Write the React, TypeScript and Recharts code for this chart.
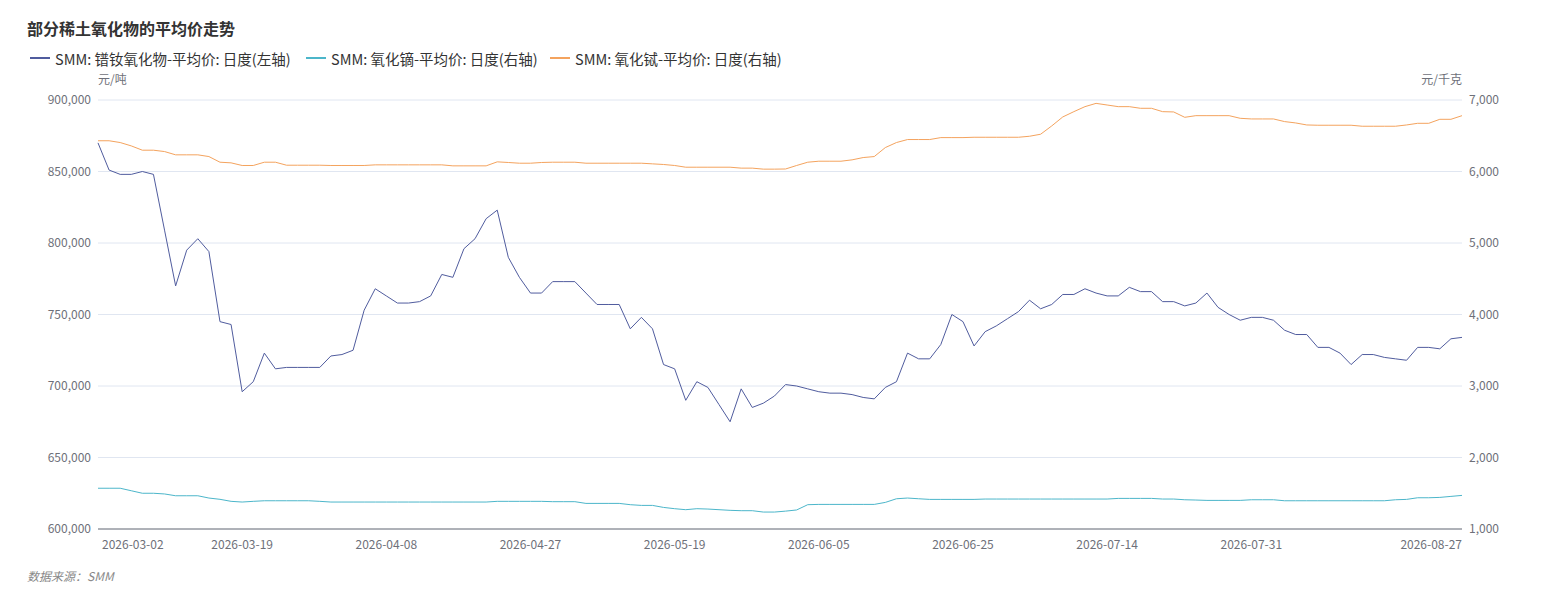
import React from 'react';
import { LineChart, Line, XAxis, YAxis, CartesianGrid } from 'recharts';

const dates: string[] = [
  '2026-03-02','2026-03-03','2026-03-04','2026-03-05','2026-03-06','2026-03-09','2026-03-10','2026-03-11','2026-03-12','2026-03-13',
  '2026-03-16','2026-03-17','2026-03-18','2026-03-19','2026-03-20','2026-03-23','2026-03-24','2026-03-25','2026-03-26','2026-03-27',
  '2026-03-30','2026-03-31','2026-04-01','2026-04-02','2026-04-03','2026-04-07','2026-04-08','2026-04-09','2026-04-10','2026-04-13',
  '2026-04-14','2026-04-15','2026-04-16','2026-04-17','2026-04-20','2026-04-21','2026-04-22','2026-04-23','2026-04-24','2026-04-27',
  '2026-04-28','2026-04-29','2026-04-30','2026-05-06','2026-05-07','2026-05-08','2026-05-11','2026-05-12','2026-05-13','2026-05-14',
  '2026-05-15','2026-05-18','2026-05-19','2026-05-20','2026-05-21','2026-05-22','2026-05-25','2026-05-26','2026-05-27','2026-05-28',
  '2026-05-29','2026-06-01','2026-06-02','2026-06-03','2026-06-04','2026-06-05','2026-06-08','2026-06-09','2026-06-10','2026-06-11',
  '2026-06-12','2026-06-15','2026-06-16','2026-06-17','2026-06-18','2026-06-22','2026-06-23','2026-06-24','2026-06-25','2026-06-26',
  '2026-06-29','2026-06-30','2026-07-01','2026-07-02','2026-07-03','2026-07-06','2026-07-07','2026-07-08','2026-07-09','2026-07-10',
  '2026-07-13','2026-07-14','2026-07-15','2026-07-16','2026-07-17','2026-07-20','2026-07-21','2026-07-22','2026-07-23','2026-07-24',
  '2026-07-27','2026-07-28','2026-07-29','2026-07-30','2026-07-31','2026-08-03','2026-08-04','2026-08-05','2026-08-06','2026-08-07',
  '2026-08-10','2026-08-11','2026-08-12','2026-08-13','2026-08-14','2026-08-17','2026-08-18','2026-08-19','2026-08-20','2026-08-21',
  '2026-08-24','2026-08-25','2026-08-26','2026-08-27',
];

// SMM: 镨钕氧化物-平均价 (元/吨, 左轴)
const prNdOxide: number[] = [
  870000,851000,848000,848000,850000,848000,809000,770000,795000,803000,
  794000,745000,743000,696000,703000,723000,712000,713000,713000,713000,
  713000,721000,722000,725000,753000,768000,763000,758000,758000,759000,
  763000,778000,776000,796000,803000,817000,823000,790000,776000,765000,
  765000,773000,773000,773000,765000,757000,757000,757000,740000,748000,
  740000,715000,712000,690000,703000,699000,687000,675000,698000,685000,
  688000,693000,701000,700000,698000,696000,695000,695000,694000,692000,
  691000,699000,703000,723000,719000,719000,729000,750000,745000,728000,
  738000,742000,747000,752000,760000,754000,757000,764000,764000,768000,
  765000,763000,763000,769000,766000,766000,759000,759000,756000,758000,
  765000,755000,750000,746000,748000,748000,746000,739000,736000,736000,
  727000,727000,723000,715000,722000,722000,720000,719000,718000,727000,
  727000,726000,733000,734000,
];

// SMM: 氧化镝-平均价 (元/千克, 右轴)
const dyOxide: number[] = [
  1570,1570,1570,1535,1500,1500,1490,1465,1465,1465,
  1433,1415,1387,1377,1387,1395,1395,1395,1395,1395,
  1387,1377,1377,1377,1377,1377,1377,1377,1377,1377,
  1377,1377,1377,1377,1377,1377,1387,1387,1387,1387,
  1387,1382,1382,1382,1358,1358,1358,1358,1340,1330,
  1330,1302,1284,1270,1284,1279,1270,1261,1256,1256,
  1237,1237,1250,1266,1340,1344,1344,1344,1344,1344,
  1344,1372,1423,1433,1423,1414,1414,1414,1414,1414,
  1419,1419,1419,1419,1419,1419,1419,1419,1419,1419,
  1419,1419,1428,1428,1428,1428,1419,1419,1409,1405,
  1400,1400,1400,1400,1409,1409,1409,1395,1395,1395,
  1395,1395,1395,1395,1395,1395,1395,1409,1414,1437,
  1437,1442,1456,1470,
];

// SMM: 氧化铽-平均价 (元/千克, 右轴)
const tbOxide: number[] = [
  6430,6430,6405,6358,6298,6298,6279,6233,6233,6233,
  6209,6130,6121,6084,6084,6130,6130,6088,6088,6088,
  6088,6084,6084,6084,6084,6093,6093,6093,6093,6093,
  6093,6093,6079,6079,6079,6079,6135,6126,6116,6116,
  6126,6130,6130,6130,6116,6116,6116,6116,6116,6116,
  6107,6098,6084,6060,6060,6060,6060,6060,6047,6047,
  6033,6033,6035,6084,6130,6144,6144,6144,6163,6195,
  6209,6335,6405,6447,6447,6447,6474,6474,6474,6479,
  6479,6479,6479,6479,6493,6521,6637,6763,6837,6907,
  6953,6930,6907,6907,6884,6884,6837,6833,6758,6781,
  6781,6781,6781,6744,6735,6735,6735,6698,6679,6651,
  6647,6647,6647,6647,6633,6633,6633,6633,6651,6674,
  6674,6730,6730,6781,
];

const xTickIndex: number[] = [0, 13, 26, 39, 52, 65, 78, 91, 104, 123];
const leftTicks: number[] = [600000, 650000, 700000, 750000, 800000, 850000, 900000];
const rightTicks: number[] = [1000, 2000, 3000, 4000, 5000, 6000, 7000];

const seriesNames = [
  'SMM: 镨钕氧化物-平均价: 日度(左轴)',
  'SMM: 氧化镝-平均价: 日度(右轴)',
  'SMM: 氧化铽-平均价: 日度(右轴)',
];
const colors = ['#505c9e', '#4cb6ca', '#f4a35e'];

const data = dates.map((d, i) => ({
  i,
  date: d,
  prNd: prNdOxide[i],
  dy: dyOxide[i],
  tb: tbOxide[i],
}));

const fmt = (v: number) => v.toLocaleString('en-US');
const lastIdx = dates.length - 1;

const XTick = (props: any) => {
  const { x, y, payload } = props;
  const v = payload.value;
  const anchor = v === 0 ? 'start' : v === lastIdx ? 'end' : 'middle';
  const dx = v === 0 ? 4 : 0;
  return (
    <text x={x + dx} y={y} dy={12} textAnchor={anchor} fill="#6e7079" fontSize={12}>
      {dates[v]}
    </text>
  );
};

const FONT = "'Microsoft YaHei', 'Noto Sans CJK SC', 'Noto Sans', sans-serif";

export default function App() {
  return (
    <div style={{ position: 'relative', width: 1525, height: 584, fontFamily: FONT, color: '#333' }}>
      <div style={{ position: 'absolute', left: 19, top: 10, fontSize: 16, lineHeight: '20px', fontWeight: 'bold', color: '#333' }}>
        部分稀土氧化物的平均价走势
      </div>
      {[22, 298, 542].map((lx, k) => (
        <div key={k} style={{ position: 'absolute', left: lx, top: 41, height: 18, display: 'flex', alignItems: 'center', fontSize: 14.5, color: '#333', whiteSpace: 'nowrap' }}>
          <span style={{ display: 'inline-block', width: 20, height: 2, background: colors[k], marginRight: 5 }} />
          <span>{seriesNames[k]}</span>
        </div>
      ))}
      <div style={{ position: 'absolute', left: 90, top: 63, fontSize: 12, lineHeight: '16px', color: '#6e7079' }}>元/吨</div>
      <div style={{ position: 'absolute', right: 71, top: 63, fontSize: 12, lineHeight: '16px', color: '#6e7079' }}>元/千克</div>
      <div style={{ position: 'absolute', left: 19, top: 560, fontSize: 12, lineHeight: '16px', color: '#888', fontStyle: 'italic' }}>
        数据来源：SMM
      </div>
      <div style={{ position: 'absolute', left: 0, top: 0 }}>
        <LineChart width={1525} height={560} data={data} margin={{ top: 92, right: 0, bottom: 9, left: 0 }}>
          <CartesianGrid vertical={false} stroke="#e0e6f1" yAxisId="left" />
          <XAxis
            type="number"
            dataKey="i"
            domain={[0, lastIdx]}
            ticks={xTickIndex}
            interval={0}
            tickLine={false}
            axisLine={{ stroke: '#6e7079' }}
            height={30}
            tick={<XTick />}
          />
          <YAxis
            yAxisId="left"
            domain={[600000, 900000]}
            ticks={leftTicks}
            interval={0}
            width={90}
            tickLine={false}
            axisLine={false}
            tickMargin={1}
            tickFormatter={fmt}
            tick={{ fill: '#6e7079', fontSize: 12 }}
          />
          <YAxis
            yAxisId="right"
            orientation="right"
            domain={[1000, 7000]}
            ticks={rightTicks}
            interval={0}
            width={71}
            tickLine={false}
            axisLine={false}
            tickMargin={1}
            tickFormatter={fmt}
            tick={{ fill: '#6e7079', fontSize: 12 }}
          />
          <Line yAxisId="left" type="linear" dataKey="prNd" stroke={colors[0]} strokeWidth={1} dot={false} isAnimationActive={false} />
          <Line yAxisId="right" type="linear" dataKey="dy" stroke={colors[1]} strokeWidth={1} dot={false} isAnimationActive={false} />
          <Line yAxisId="right" type="linear" dataKey="tb" stroke={colors[2]} strokeWidth={1} dot={false} isAnimationActive={false} />
        </LineChart>
      </div>
    </div>
  );
}
